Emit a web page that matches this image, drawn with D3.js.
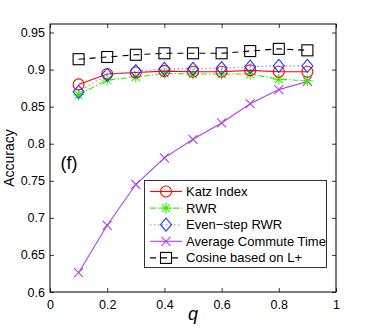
<!DOCTYPE html>
<html><head><meta charset="utf-8">
<script src="https://cdn.jsdelivr.net/npm/d3@7"></script>
<style>body{margin:0;background:#fff}svg{display:block;font-family:"Liberation Sans",Arial,sans-serif}</style>
</head><body>
<svg id="c" width="371" height="329"></svg>
<script>
const qValues = [0.1,0.2,0.3,0.4,0.5,0.6,0.7,0.8,0.9];
const katz = [0.880,0.894,0.896,0.898,0.897,0.897,0.899,0.897,0.897];
const rwr = [0.866,0.886,0.890,0.895,0.894,0.894,0.894,0.887,0.885];
const evenStep = [0.870,0.893,0.898,0.901,0.901,0.902,0.904,0.905,0.905];
const act = [0.626,0.690,0.745,0.781,0.806,0.828,0.854,0.873,0.884];
const cosine = [0.914,0.917,0.920,0.922,0.922,0.922,0.925,0.928,0.926];
const seriesNames = ["Katz Index","RWR","Even\u2212step RWR","Average Commute Time","Cosine based on L+"];
const xTicks = [0,0.2,0.4,0.6,0.8,1];
const yTicks = [0.6,0.65,0.7,0.75,0.8,0.85,0.9,0.95];

const series = [
  {name:seriesNames[0], values:katz, color:"#ff0000", dash:null, marker:"circle"},
  {name:seriesNames[1], values:rwr, color:"#33ee00", dash:"6,2,1.5,2", marker:"star"},
  {name:seriesNames[2], values:evenStep, color:"#1a3cff", dash:"1.5,2.5", marker:"diamond", lineColor:"#8090ff"},
  {name:seriesNames[3], values:act, color:"#b43cf0", dash:null, marker:"x"},
  {name:seriesNames[4], values:cosine, color:"#000000", dash:"6,5", marker:"square"}
];

const L=50,R=336,T=24,B=292;
const x=d3.scaleLinear().domain([0,1]).range([L,R]);
const y=d3.scaleLinear().domain([0.6,0.9615]).range([B,T]);
const svg=d3.select("#c");

const gx=svg.append("g").attr("transform",`translate(0,${B})`)
  .call(d3.axisBottom(x).tickValues(xTicks).tickFormat(d=>d3.format("")(d)).tickSizeInner(-4).tickSizeOuter(0).tickPadding(8));
const gxt=svg.append("g").attr("transform",`translate(0,${T})`)
  .call(d3.axisTop(x).tickValues(xTicks).tickFormat("").tickSizeInner(-4).tickSizeOuter(0));
const gy=svg.append("g").attr("transform",`translate(${L},0)`)
  .call(d3.axisLeft(y).tickValues(yTicks).tickFormat(d=>d3.format("")(d)).tickSizeInner(-4).tickSizeOuter(0).tickPadding(5));
const gyr=svg.append("g").attr("transform",`translate(${R},0)`)
  .call(d3.axisRight(y).tickValues(yTicks).tickFormat("").tickSizeInner(-4).tickSizeOuter(0));
[gx,gxt,gy,gyr].forEach(g=>{g.select(".domain").remove();g.selectAll("line").attr("stroke","#000").attr("stroke-width",0.8);
  g.selectAll("text").attr("font-size",12.5).attr("fill","#000").attr("font-family",'"Liberation Sans",Arial,sans-serif');});
svg.append("rect").attr("x",L).attr("y",T).attr("width",R-L).attr("height",B-T).attr("fill","none").attr("stroke","#000").attr("stroke-width",1);

function drawMarker(g,type,cx,cy,color){
  const s=g.append("g").attr("transform",`translate(${cx},${cy})`).attr("fill","none").attr("stroke",color).attr("stroke-width",1.1);
  if(type==="circle") s.append("circle").attr("r",5.5);
  else if(type==="square") s.append("rect").attr("x",-5.5).attr("y",-5.5).attr("width",11).attr("height",11);
  else if(type==="diamond") s.append("path").attr("d","M0,-6.5L5.5,0L0,6.5L-5.5,0Z");
  else if(type==="x") s.append("path").attr("d","M-4.5,-4.5L4.5,4.5M-4.5,4.5L4.5,-4.5");
  else if(type==="star") s.append("path").attr("d","M0,-5.5V5.5M-5.5,0H5.5M-4,-4L4,4M-4,4L4,-4");
}

const line=d3.line().x((d,i)=>x(qValues[i])).y(d=>y(d));
const order=[4,3,1,0,2];
order.forEach(k=>{
  const s=series[k];
  svg.append("path").datum(s.values).attr("d",line).attr("fill","none")
    .attr("stroke",s.lineColor||s.color).attr("stroke-width",1.1).attr("stroke-dasharray",s.dash);
  const g=svg.append("g");
  s.values.forEach((v,i)=>drawMarker(g,s.marker,x(qValues[i]),y(v),s.color));
});

const lg=svg.append("g");
lg.append("rect").attr("x",144.5).attr("y",180.5).attr("width",182).attr("height",87).attr("fill","#fff").attr("stroke","#000").attr("stroke-width",0.8);
series.forEach((s,i)=>{
  const yy=191.5+i*16.6;
  lg.append("line").attr("x1",150).attr("x2",182).attr("y1",yy).attr("y2",yy)
    .attr("stroke",s.lineColor||s.color).attr("stroke-width",1.1).attr("stroke-dasharray",s.dash);
  drawMarker(lg,s.marker,166,yy,s.color);
  lg.append("text").attr("x",186).attr("y",yy+4.5).attr("font-size",13).text(s.name);
});

svg.append("text").attr("x",69).attr("y",169).attr("text-anchor","middle").attr("font-size",18).text("(f)");
svg.append("text").attr("transform","translate(14,158) rotate(-90)").attr("text-anchor","middle").attr("font-size",14).text("Accuracy");
svg.append("text").attr("x",193).attr("y",320).attr("text-anchor","middle").attr("font-size",18).attr("font-style","italic").text("q");
</script>
</body></html>
